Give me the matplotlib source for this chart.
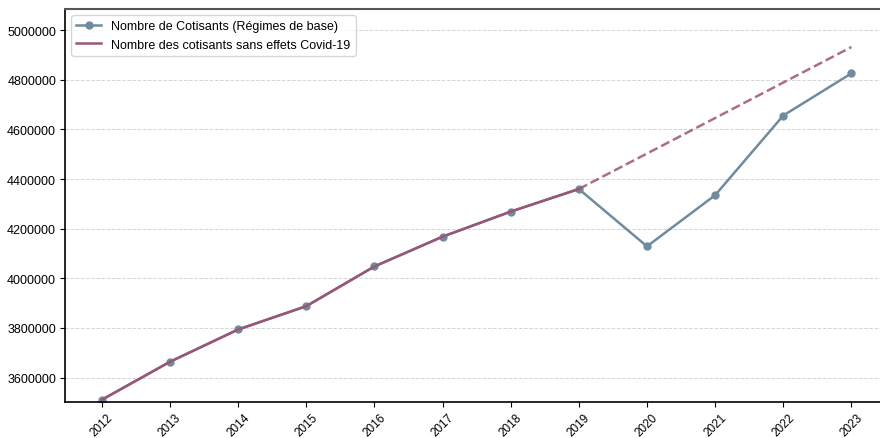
import matplotlib
matplotlib.use("Agg")
import matplotlib.pyplot as plt

plt.rcParams['font.family'] = ['Liberation Sans', 'DejaVu Sans']

# Données
annees = [2012, 2013, 2014, 2015, 2016, 2017, 2018, 2019, 2020, 2021, 2022, 2023]
cotisants = [3511000, 3664000, 3794000, 3888000, 4048000, 4168000, 4269000,
             4360000, 4129000, 4335000, 4656000, 4826000]
# Tendance sans Covid : réel jusqu'en 2019, projection ensuite
annees_sans_covid = [2012, 2013, 2014, 2015, 2016, 2017, 2018, 2019]
sans_covid = cotisants[:8]
annees_proj = [2019, 2020, 2021, 2022, 2023]
projection = [4360000, 4503000, 4646000, 4789000, 4932000]

c_bleu = '#6f8c9d'
c_violet = '#9b5575'

fig = plt.figure(figsize=(8.8, 4.39), dpi=100)
ax = fig.add_axes([0.074, 0.081, 0.926, 0.896])

ax.plot(annees, cotisants, color=c_bleu, marker='o', markersize=5, linewidth=1.8,
        label='Nombre de Cotisants (Régimes de base)')
ax.plot(annees_sans_covid, sans_covid, color=c_violet, linewidth=1.8,
        label='Nombre des cotisants sans effets Covid-19')
ax.plot(annees_proj, projection, color=c_violet, linewidth=1.8, linestyle='--', alpha=0.85)

ax.set_xlim(2011.46, 2023.42)
ax.set_ylim(3500000, 5085000)
ax.set_xticks(annees)
ax.set_xticklabels([str(a) for a in annees], rotation=45, fontsize=8.5)
ax.set_yticks(range(3600000, 5000001, 200000))
ax.set_yticklabels([str(v) for v in range(3600000, 5000001, 200000)], fontsize=9)
ax.tick_params(length=3.5, pad=3)
ax.grid(axis='y', linestyle='--', color='#d5d5d5', linewidth=0.7)
ax.set_axisbelow(True)

ax.spines['right'].set_visible(False)
ax.spines['top'].set_color('#555555')
ax.spines['top'].set_linewidth(1.5)
for s in ['left', 'bottom']:
    ax.spines[s].set_color('black')
    ax.spines[s].set_linewidth(1.2)

ax.legend(loc='upper left', fontsize=9)

fig.savefig('out.png', dpi=100)
